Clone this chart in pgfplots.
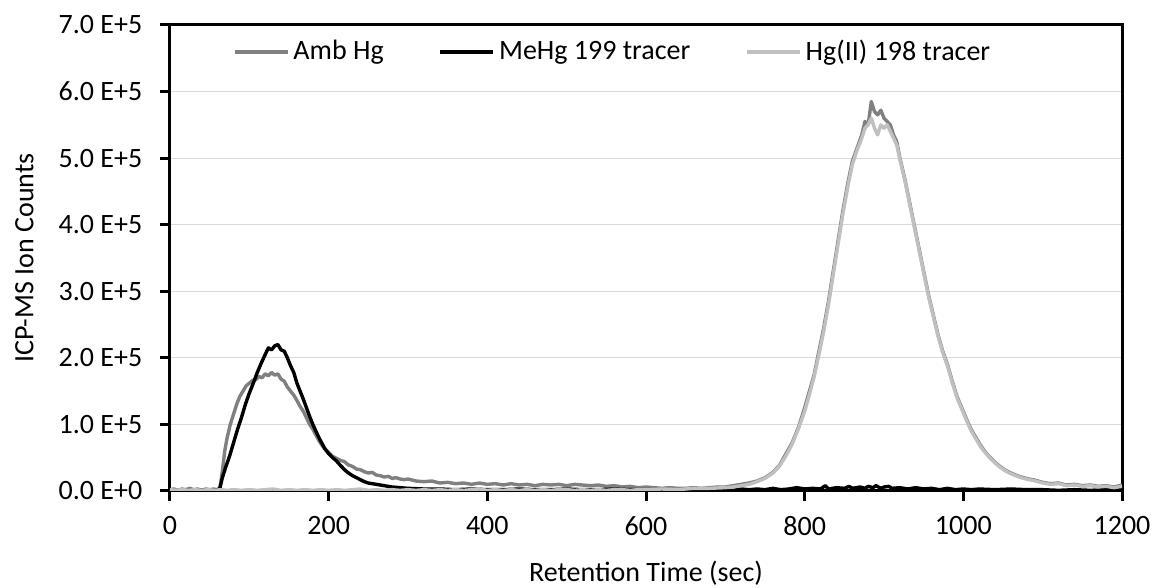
\documentclass[border=0pt]{standalone}
\usepackage{pgfplots}
\pgfplotsset{compat=1.18}
\usepackage{fontspec}
\setmainfont{Carlito}
\definecolor{ambc}{HTML}{808080}
\definecolor{hgc}{HTML}{C0C0C0}
\definecolor{gridc}{HTML}{D9D9D9}
\begin{document}
\fontsize{14pt}{16pt}\selectfont
\begin{tikzpicture}
\path[use as bounding box] (-85pt,-48.5pt) rectangle (492.5pt,245.5pt);
\begin{axis}[
  at={(0pt,0pt)}, anchor=south west,
  scale only axis, width=476pt, height=233pt,
  xmin=0, xmax=1200, ymin=0, ymax=7,
  xtick={0,200,...,1200},
  xticklabels={0,200,400,600,800,1000,1200},
  ytick={0,1,...,7},
  yticklabels={0.0 E+0,1.0 E+5,2.0 E+5,3.0 E+5,4.0 E+5,5.0 E+5,6.0 E+5,7.0 E+5},
  /pgf/number format/assume math mode=true,
  tick align=outside, major tick length=5pt,
  tick style={black, line width=1.5pt},
  axis line style={black, line width=1.5pt},
  xtick pos=bottom, ytick pos=left,
  ymajorgrids, grid style={gridc, line width=0.6pt},
  ticklabel style={font=\fontsize{14pt}{16pt}\selectfont},
  yticklabel style={xshift=-4pt},
  xticklabel style={yshift=-3pt},
  label style={font=\fontsize{14pt}{16pt}\selectfont},
  xlabel={Retention Time (sec)},
  xlabel style={yshift=-3pt},
  ylabel={ICP-MS Ion Counts},
  ylabel style={yshift=3pt},
  legend columns=-1,
  legend style={draw=none, fill=none, at={(0.466,0.942)}, anchor=center,
    font=\fontsize{14pt}{16pt}\selectfont,
    /tikz/every even column/.append style={column sep=25.5pt}},
  legend image code/.code={\draw[#1] (0pt,0pt) -- (26.5pt,0pt);},
  every axis plot/.append style={line width=1.7pt, line join=round},
]
\addplot[ambc, mark=none] coordinates {
(0,0.02)(5,0.03)(10,0.01)(15,0.03)(20,0.02)(25,0.04)(30,0.02)(35,0.03)(40,0.01)(45,0.03)(50,0.02)(55,0.03)(60,0.02)(63,0.05)
(66,0.3)(69,0.6)(72,0.8)(76,1.0)(80,1.15)(84,1.3)(88,1.42)(92,1.5)(96,1.58)(100,1.62)(104,1.66)(108,1.67)(112,1.72)(116,1.7)(120,1.76)(124,1.73)(128,1.78)(132,1.74)(136,1.76)(140,1.68)(144,1.65)(148,1.56)(152,1.5)(156,1.44)(160,1.36)(164,1.27)(168,1.2)(172,1.1)(176,1.0)(180,0.93)(184,0.84)(188,0.75)(192,0.68)(196,0.62)(200,0.58)(205,0.52)(210,0.49)(215,0.46)(220,0.44)(225,0.39)(230,0.37)(235,0.33)(240,0.32)(245,0.29)(250,0.27)(255,0.28)(260,0.24)(265,0.23)(270,0.21)(275,0.22)(280,0.19)(285,0.2)(290,0.18)(295,0.17)(300,0.18)(310,0.15)(320,0.14)(330,0.15)(340,0.12)(350,0.13)(360,0.11)(370,0.12)(380,0.1)(390,0.12)(400,0.1)(410,0.11)(420,0.09)(430,0.11)(440,0.09)(450,0.1)(460,0.08)(470,0.1)(480,0.09)(490,0.1)(500,0.08)(510,0.1)(520,0.09)(530,0.08)(540,0.09)(550,0.07)(560,0.08)(570,0.06)(580,0.07)(590,0.05)(600,0.06)(610,0.05)(620,0.04)(630,0.05)(640,0.04)(650,0.04)(660,0.05)(670,0.04)(680,0.05)(690,0.06)(700,0.06)(710,0.08)(720,0.1)(730,0.12)(740,0.15)(750,0.2)(760,0.28)(768,0.38)(776,0.55)(784,0.72)(792,0.95)(800,1.25)(806,1.5)(812,1.75)(818,2.1)(824,2.45)(830,2.85)(836,3.3)(842,3.75)(848,4.2)(854,4.6)(860,4.95)(866,5.15)(872,5.35)(876,5.55)(880,5.5)(884,5.85)(888,5.7)(892,5.65)(896,5.72)(900,5.6)(904,5.55)(908,5.5)(912,5.35)(916,5.25)(920,5.0)(926,4.7)(932,4.35)(938,4.0)(944,3.65)(950,3.3)(956,2.95)(962,2.65)(968,2.35)(974,2.1)(980,1.9)(986,1.65)(992,1.42)(998,1.25)(1004,1.08)(1010,0.92)(1016,0.8)(1022,0.68)(1028,0.58)(1034,0.5)(1040,0.43)(1046,0.37)(1052,0.32)(1058,0.28)(1064,0.25)(1070,0.22)(1076,0.2)(1082,0.18)(1088,0.17)(1094,0.15)(1100,0.13)(1110,0.11)(1120,0.12)(1130,0.09)(1140,0.1)(1150,0.08)(1160,0.09)(1170,0.07)(1180,0.08)(1190,0.06)(1200,0.09)
};
\addlegendentry{Amb Hg}
\addplot[black, mark=none] coordinates {
(0,0.01)(10,0.0)(20,0.01)(30,0.0)(40,0.01)(50,0.0)(58,0.01)(61,0.02)
(63,0.05)(66,0.2)(70,0.35)(75,0.52)(80,0.72)(85,0.92)(90,1.1)(95,1.3)(100,1.47)(105,1.62)(110,1.78)(115,1.92)(120,2.05)(124,2.15)(128,2.12)(132,2.18)(136,2.2)(140,2.12)(144,2.1)(148,2.0)(152,1.88)(156,1.78)(160,1.62)(164,1.5)(168,1.38)(172,1.25)(176,1.12)(180,1.0)(185,0.87)(190,0.75)(195,0.64)(200,0.56)(205,0.5)(210,0.45)(215,0.38)(220,0.32)(225,0.27)(230,0.23)(235,0.2)(240,0.17)(245,0.14)(250,0.12)(260,0.1)(270,0.08)(280,0.06)(290,0.05)(300,0.04)(320,0.03)(340,0.03)(360,0.02)(380,0.03)(400,0.02)(420,0.02)(440,0.03)(460,0.02)(480,0.02)(500,0.03)(520,0.02)(540,0.02)(560,0.03)(580,0.02)(600,0.02)(620,0.02)(640,0.01)(660,0.02)(680,0.01)
(700,0.02)(710,0.01)(720,0.03)(730,0.02)(740,0.03)(750,0.02)(760,0.04)(770,0.02)(780,0.03)(790,0.05)(800,0.03)(810,0.04)(820,0.03)(826,0.08)(830,0.03)(840,0.05)(850,0.04)(856,0.07)(860,0.04)(870,0.06)(876,0.04)(880,0.07)(886,0.05)(890,0.08)(896,0.04)(900,0.06)(906,0.07)(910,0.04)(920,0.05)(930,0.03)(940,0.05)(950,0.03)(960,0.04)(970,0.02)(980,0.04)(990,0.02)(1000,0.03)(1010,0.02)(1020,0.03)(1040,0.02)(1060,0.03)(1080,0.02)(1100,0.02)(1120,0.01)(1140,0.02)(1160,0.01)(1180,0.02)(1200,0.03)
};
\addlegendentry{MeHg 199 tracer}
\addplot[hgc, mark=none] coordinates {
(0,0.02)(8,0.01)(16,0.02)(24,0.01)(32,0.02)(40,0.01)(48,0.02)(56,0.01)(64,0.02)(72,0.01)(80,0.02)(90,0.01)(100,0.02)(110,0.01)(120,0.02)(130,0.03)(140,0.01)(150,0.02)(160,0.01)(170,0.02)(180,0.01)(190,0.02)(200,0.01)(210,0.02)(220,0.01)(230,0.02)(240,0.03)(250,0.01)(260,0.02)(270,0.01)(280,0.02)(290,0.01)(300,0.02)(310,0.01)(320,0.02)(330,0.01)(340,0.02)(350,0.01)(360,0.02)(370,0.01)(380,0.02)(390,0.03)(400,0.01)(410,0.02)(420,0.01)(430,0.02)(440,0.01)(450,0.02)(460,0.01)(470,0.02)(480,0.01)(490,0.02)(500,0.02)(510,0.01)(520,0.02)(530,0.01)(540,0.02)(550,0.01)(560,0.02)(570,0.02)(580,0.01)(590,0.02)(600,0.02)(620,0.03)(640,0.02)(660,0.04)(680,0.04)(700,0.05)
(710,0.06)(720,0.08)(730,0.1)(740,0.14)(750,0.19)(760,0.27)(768,0.37)(776,0.52)(784,0.7)(792,0.93)(800,1.2)(806,1.45)(812,1.72)(818,2.05)(824,2.4)(830,2.8)(836,3.25)(842,3.7)(848,4.15)(854,4.55)(860,4.9)(866,5.12)(872,5.3)(876,5.45)(880,5.5)(884,5.6)(888,5.45)(892,5.35)(896,5.5)(900,5.45)(904,5.5)(908,5.4)(912,5.3)(916,5.2)(920,4.98)(926,4.68)(932,4.33)(938,3.98)(944,3.63)(950,3.28)(956,2.93)(962,2.63)(968,2.33)(974,2.08)(980,1.88)(986,1.63)(992,1.4)(998,1.23)(1004,1.06)(1010,0.9)(1016,0.78)(1022,0.66)(1028,0.57)(1034,0.49)(1040,0.42)(1046,0.36)(1052,0.31)(1058,0.27)(1064,0.24)(1070,0.21)(1076,0.19)(1082,0.17)(1088,0.16)(1094,0.14)(1100,0.12)(1110,0.1)(1120,0.11)(1130,0.08)(1140,0.09)(1150,0.07)(1160,0.08)(1170,0.06)(1180,0.07)(1190,0.05)(1200,0.07)
};
\addlegendentry{Hg(II) 198 tracer}
\end{axis}
\end{tikzpicture}
\end{document}
